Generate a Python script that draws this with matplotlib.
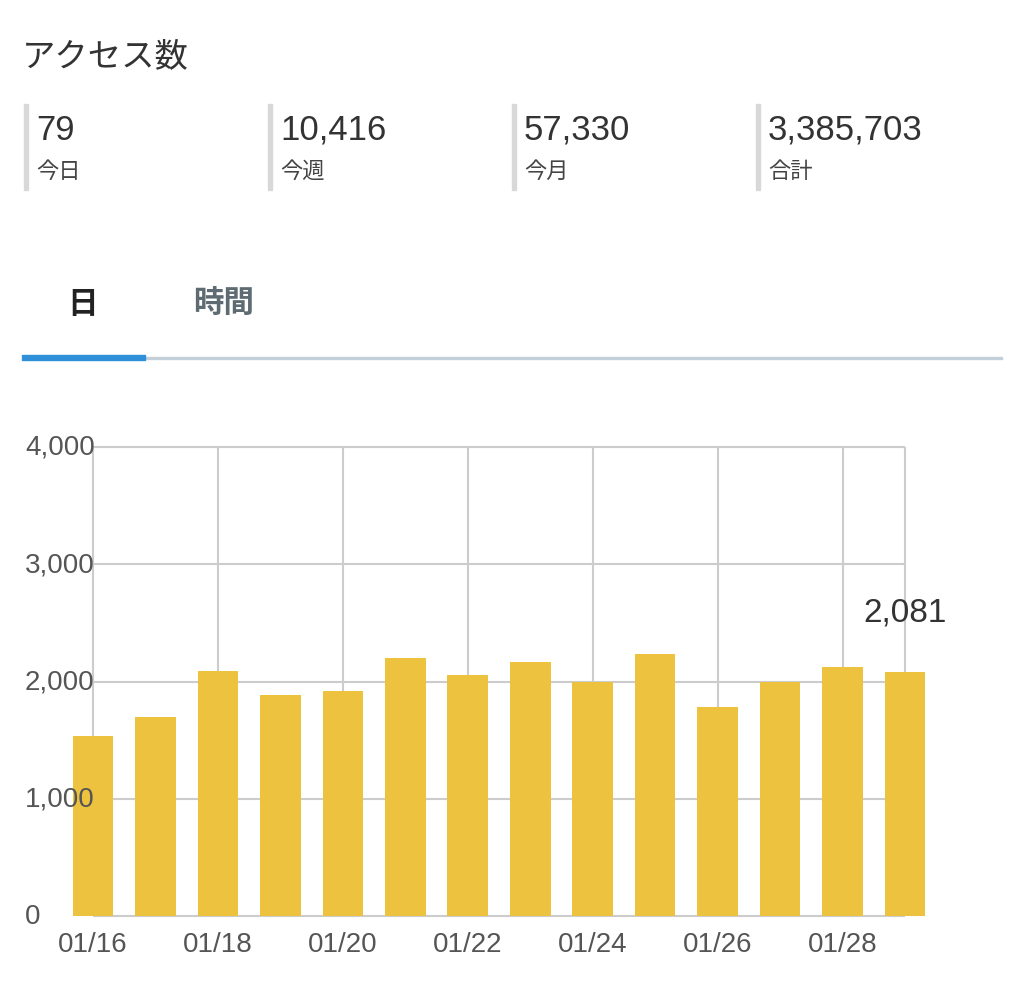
import matplotlib.pyplot as plt
from matplotlib.patches import Rectangle

plt.rcParams['font.family'] = ['Liberation Sans', 'Noto Sans CJK JP', 'DejaVu Sans']

dates = ["01/16", "01/17", "01/18", "01/19", "01/20", "01/21", "01/22",
         "01/23", "01/24", "01/25", "01/26", "01/27", "01/28", "01/29"]
access = [1535, 1697, 2090, 1885, 1919, 2200, 2055, 2166, 1996, 2235,
          1783, 1996, 2124, 2081]
stat_values = ["79", "10,416", "57,330", "3,385,703"]
stat_labels = ["今日", "今週", "今月", "合計"]
y_ticks = [0, 1000, 2000, 3000, 4000]

W, H = 1024, 987
fig = plt.figure(figsize=(W / 100, H / 100), dpi=100)

def fx(px): return px / W
def fy(py): return 1 - py / H

fig.text(fx(22), fy(58), "アクセス数", fontsize=24, color="#333333", va="center")
for i, (v, lab) in enumerate(zip(stat_values, stat_labels)):
    x0 = 24 + i * 244
    fig.patches.append(Rectangle((fx(x0), fy(191)), fx(4), 86 / H,
                                 transform=fig.transFigure, color="#d8d8d8"))
    fig.text(fx(x0 + 12), fy(130), v, fontsize=25, color="#333333", va="center")
    fig.text(fx(x0 + 12), fy(172), lab, fontsize=16, color="#444444", va="center")

fig.text(fx(83), fy(305), "日", fontsize=22, fontweight="bold", color="#222222",
         ha="center", va="center")
fig.text(fx(224), fy(305), "時間", fontsize=22, fontweight="bold", color="#5f6b73",
         ha="center", va="center")
fig.patches.append(Rectangle((fx(145), fy(360)), fx(857), 2 / H,
                             transform=fig.transFigure, color="#c3cfd9"))
fig.patches.append(Rectangle((fx(22), fy(361)), fx(123), 5 / H,
                             transform=fig.transFigure, color="#2f8fd8"))

# axes: data 0 -> px 93, data 13 -> px 905
ppu = (905 - 93) / 13
left_px = 93 - 0.5 * ppu
right_px = 905 + 0.5 * ppu
ax = fig.add_axes([fx(left_px), fy(917), fx(right_px - left_px), (917 - 448) / H])
ax.set_xlim(-0.5, 13.5)
ax.set_ylim(0, 4000)
ax.axis("off")

grid_c = "#cccccc"
for t in y_ticks:
    ax.hlines(t, 0, 13, color=grid_c, lw=1.5, clip_on=False, zorder=1)
for i in list(range(0, 14, 2)) + [13]:
    ax.vlines(i, 0, 4000, color=grid_c, lw=1.5, clip_on=False, zorder=1)

x = list(range(len(dates)))
ax.bar(x, access, width=0.65, color="#ecc23e", zorder=2)

for t in y_ticks:
    fig.text(fx(25), fy(917 - t * (917 - 448) / 4000), f"{t:,}", fontsize=20,
             color="#555555", va="center", ha="left")
for i in range(0, 14, 2):
    ax.text(i, -130, dates[i], fontsize=20, color="#555555", ha="center", va="top")

ax.text(13, access[-1] + 380, f"{access[-1]:,}", fontsize=24, color="#333333",
        ha="center", va="bottom")

fig.savefig("out.png", dpi=100)
